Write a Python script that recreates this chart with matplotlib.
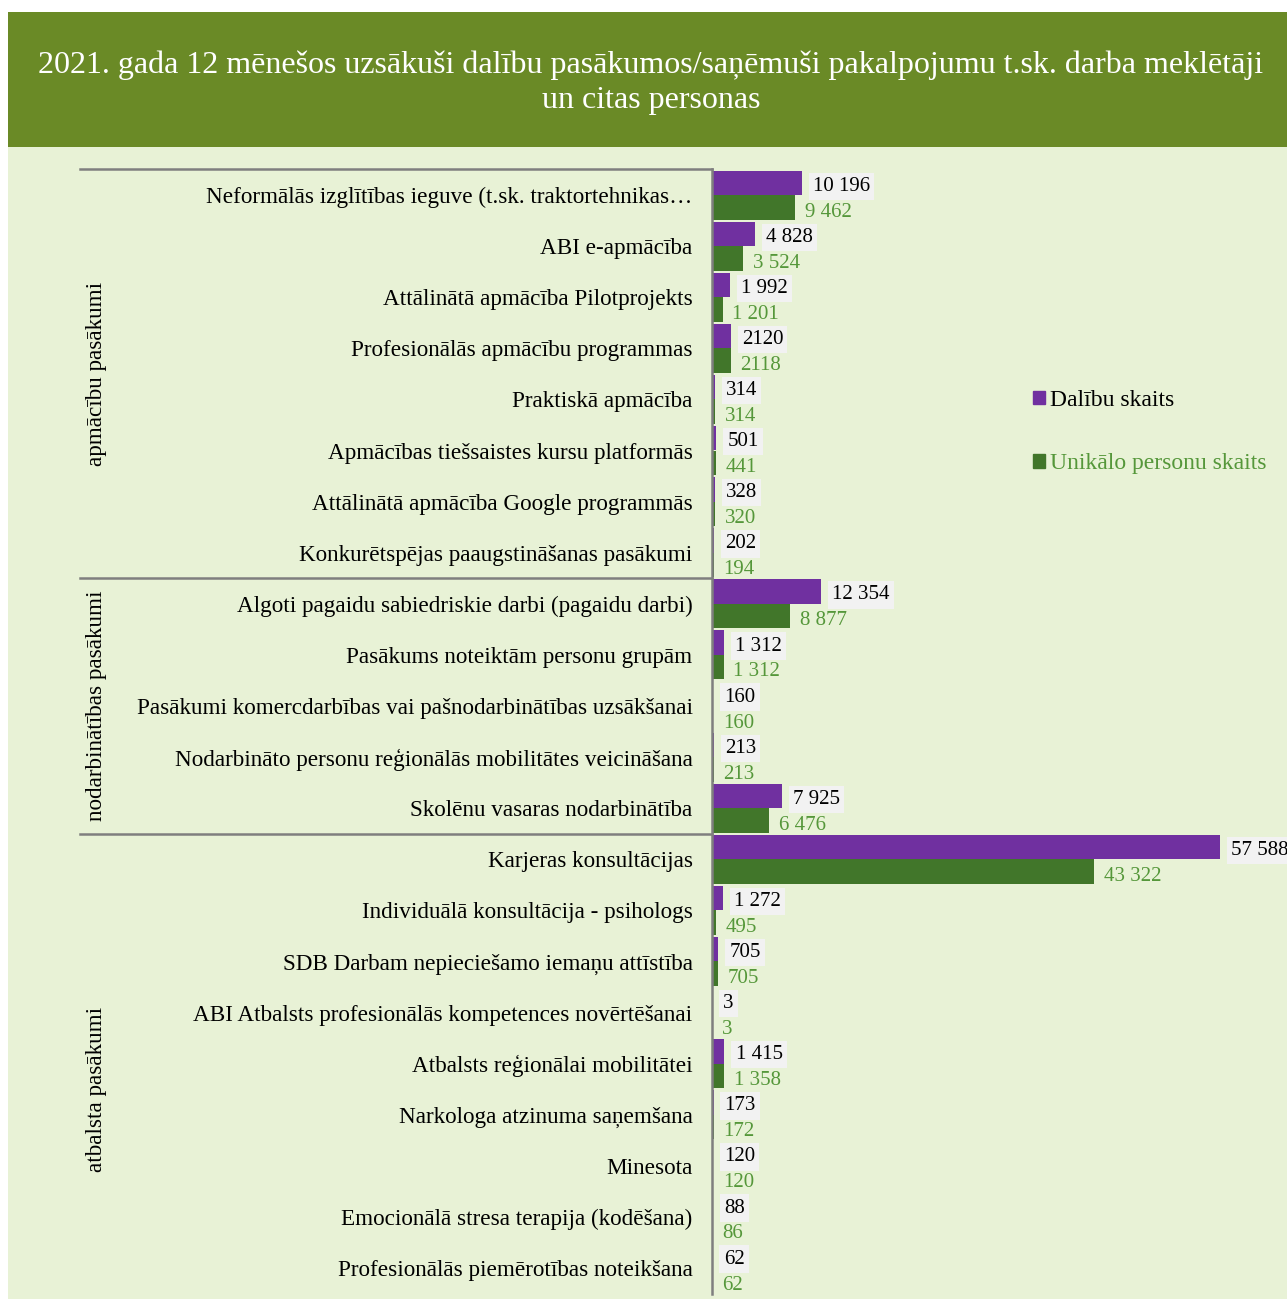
import matplotlib
matplotlib.use("Agg")
import matplotlib.pyplot as plt
from matplotlib.patches import Rectangle, Patch
import numpy as np

plt.rcParams['font.family'] = ['Liberation Serif', 'DejaVu Serif']

# data
categories = [
    "Neformālās izglītības ieguve (t.sk. traktortehnikas…",
    "ABI e-apmācība",
    "Attālinātā apmācība Pilotprojekts",
    "Profesionālās apmācību programmas",
    "Praktiskā apmācība",
    "Apmācības tiešsaistes kursu platformās",
    "Attālinātā apmācība Google programmās",
    "Konkurētspējas paaugstināšanas pasākumi",
    "Algoti pagaidu sabiedriskie darbi (pagaidu darbi)",
    "Pasākums noteiktām personu grupām",
    "Pasākumi komercdarbības vai pašnodarbinātības uzsākšanai",
    "Nodarbināto personu reģionālās mobilitātes veicināšana",
    "Skolēnu vasaras nodarbinātība",
    "Karjeras konsultācijas",
    "Individuālā konsultācija - psihologs",
    "SDB Darbam nepieciešamo iemaņu attīstība",
    "ABI Atbalsts profesionālās kompetences novērtēšanai",
    "Atbalsts reģionālai mobilitātei",
    "Narkologa atzinuma saņemšana",
    "Minesota",
    "Emocionālā stresa terapija (kodēšana)",
    "Profesionālās piemērotības noteikšana",
]
dalibu = [10196, 4828, 1992, 2120, 314, 501, 328, 202,
          12354, 1312, 160, 213, 7925,
          57588, 1272, 705, 3, 1415, 173, 120, 88, 62]
unikalo = [9462, 3524, 1201, 2118, 314, 441, 320, 194,
           8877, 1312, 160, 213, 6476,
           43322, 495, 705, 3, 1358, 172, 120, 86, 62]
dalibu_labels = ["10 196", "4 828", "1 992", "2120", "314", "501", "328", "202",
                 "12 354", "1 312", "160", "213", "7 925",
                 "57 588", "1 272", "705", "3", "1 415", "173", "120", "88", "62"]
unikalo_labels = ["9 462", "3 524", "1 201", "2118", "314", "441", "320", "194",
                  "8 877", "1 312", "160", "213", "6 476",
                  "43 322", "495", "705", "3", "1 358", "172", "120", "86", "62"]
groups = ["apmācību pasākumi", "nodarbinātības pasākumi", "atbalsta pasākumi"]
group_sizes = [8, 5, 9]

title = ("2021. gada 12 mēnešos uzsākuši dalību pasākumos/saņēmuši pakalpojumu t.sk. darba meklētāji\n"
         "un citas personas")

PURPLE = '#7030a0'
GREEN = '#41762a'
GREEN_TXT = '#55973a'
BG = '#e8f2d6'
BANNER = '#6a8a26'

W, H = 1287, 1299
fig = plt.figure(figsize=(W / 100, H / 100), dpi=100)
fig.patch.set_facecolor('white')
fig.add_artist(Rectangle((8 / W, 1 - 147 / H), 1, 135 / H, transform=fig.transFigure,
                         facecolor=BANNER, edgecolor='none', zorder=0))
fig.add_artist(Rectangle((8 / W, 0), 1, 1 - 147 / H, transform=fig.transFigure,
                         facecolor=BG, edgecolor='none', zorder=0))
fig.text(651 / W, 1 - 83 / H, title, ha='center', va='center', color='white',
         fontsize=23, linespacing=1.25)

ax_left, ax_right = 712, 1287
ax_top, ax_bot = 169.5, 1293.5
ax = fig.add_axes([ax_left / W, 1 - ax_bot / H, (ax_right - ax_left) / W, (ax_bot - ax_top) / H])
ax.set_facecolor('none')

n = len(categories)
y = np.arange(n)
h = 0.48
ax.barh(y - h / 2, dalibu, height=h, color=PURPLE, label='Dalību skaits')
ax.barh(y + h / 2, unikalo, height=h, color=GREEN, label='Unikālo personu skaits')

xmax = 57588 * (ax_right - ax_left) / 508
ax.set_xlim(0, xmax)
ax.set_ylim(n - 0.5, -0.5)

for i in range(n):
    ax.annotate(dalibu_labels[i], (dalibu[i], y[i] - h / 2), xytext=(8, -2.5),
                textcoords='offset points', ha='left', va='center', fontsize=15,
                color='black', annotation_clip=False,
                bbox=dict(boxstyle='square,pad=0.2', facecolor='#f2f2f2', edgecolor='none'))
    ax.annotate(unikalo_labels[i], (unikalo[i], y[i] + h / 2), xytext=(7, -3.5),
                textcoords='offset points', ha='left', va='center', fontsize=15,
                color=GREEN_TXT, annotation_clip=False)

ax.set_yticks(y)
ax.set_yticklabels(categories, fontsize=16.7)
ax.tick_params(axis='y', length=0, pad=14)
ax.set_xticks([])
for s in ['top', 'right', 'bottom']:
    ax.spines[s].set_visible(False)
ax.spines['left'].set_color('#7f7f7f')
ax.spines['left'].set_linewidth(1.8)

# group separators and labels
trans = ax.get_yaxis_transform()
x_sep = (80 - ax_left) / (ax_right - ax_left)
x_grp = (96 - ax_left) / (ax_right - ax_left)
start = 0
for g, size in zip(groups, group_sizes):
    ax.plot([x_sep, 0], [start - 0.5, start - 0.5], transform=trans, color='#7f7f7f',
            lw=1.8, clip_on=False)
    mid = start + (size - 1) / 2
    if g == "atbalsta pasākumi":
        mid += 0.5
    ax.text(x_grp, mid, g, transform=trans, rotation=90, ha='center', va='center',
            fontsize=16.7)
    start += size

leg = fig.legend(handles=[Patch(color=PURPLE), Patch(color=GREEN)],
                 labels=['Dalību skaits', 'Unikālo personu skaits'],
                 loc='center left', bbox_to_anchor=(1012 / W, 1 - 432 / H),
                 frameon=False, fontsize=17, handlelength=0.5, handleheight=0.5,
                 handletextpad=0.2, labelspacing=1.8,
                 labelcolor=['black', GREEN_TXT])

fig.savefig('out.png', dpi=100, facecolor=fig.get_facecolor())
